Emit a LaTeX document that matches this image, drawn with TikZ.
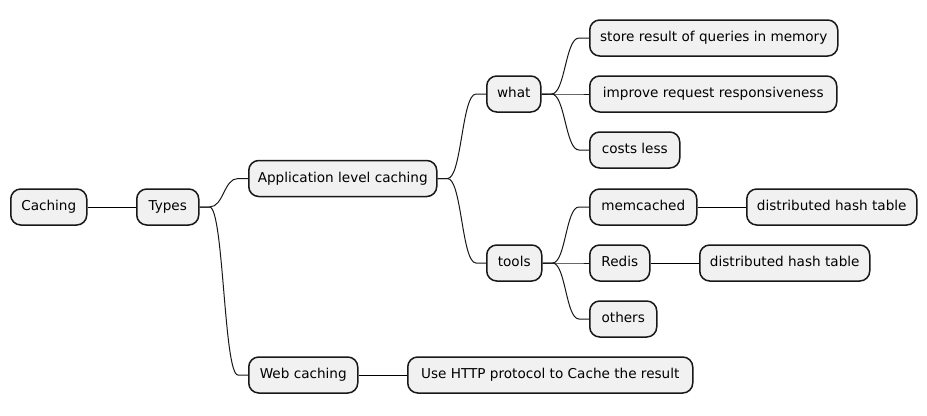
\documentclass[tikz,border=0pt]{standalone}
\usepackage{fontspec}
\setmainfont{DejaVu Sans}
\usepackage{tikz}
\usetikzlibrary{calc,positioning}

\definecolor{boxfill}{HTML}{F1F1F1}
\definecolor{boxline}{HTML}{181818}

\begin{document}
\begin{tikzpicture}[x=1bp,y=-1bp,
  topic/.style={draw=boxline, fill=boxfill, line width=1.5bp, rounded corners=10bp,
    anchor=west, minimum height=36bp, minimum width=#1, inner xsep=8bp, inner ysep=0bp,
    text height=10bp, text depth=2.5bp,
    font=\fontsize{13.6bp}{16bp}\selectfont},
  topic/.default=0bp,
  branch/.style={draw=boxline, line width=1bp,
    to path={let \p1=(\tikztostart), \p2=(\tikztotarget), \n1={(\x1+\x2)/2} in
      -- ++(10bp,0) .. controls (\n1,\y1) and (\n1,\y2) .. (\x2-10bp,\y2) -- (\tikztotarget)}}]
\useasboundingbox[fill=white] (0,0) rectangle (927,415);

\node[topic=76bp] (caching) at (10,207) {Caching};
\node[topic=62bp] (types) at (136,207) {Types};

\node[topic=188bp] (applevel) at (248,178.5) {Application level caching};
\node[topic=109bp] (web) at (248,375) {Web caching};

\node[topic=54bp] (what) at (486,94) {what};
\node[topic=55bp] (tools) at (486,263) {tools};

\node[topic=248bp] (store) at (589,38) {store result of queries in memory};
\node[topic=247bp] (improve) at (589,94) {improve request responsiveness};
\node[topic=90bp] (costs) at (589,150) {costs less};

\node[topic=107bp] (memcached) at (589,207) {memcached};
\node[topic=60bp] (redis) at (589,263) {Redis};
\node[topic=67bp] (others) at (589,319) {others};

\node[topic=170bp] (dhtmem) at (746,207) {distributed hash table};
\node[topic=170bp] (dhtredis) at (699,263) {distributed hash table};

\node[topic=285bp] (http) at (407,375) {Use HTTP protocol to Cache the result};

% links
\draw (caching.east) -- (types.west);
\draw[branch] (types.east) to (applevel.west);
\draw[branch] (types.east) to (web.west);
\draw[branch] (applevel.east) to (what.west);
\draw[branch] (applevel.east) to (tools.west);
\draw[branch] (what.east) to (store.west);
\draw[branch] (what.east) to (improve.west);
\draw[branch] (what.east) to (costs.west);
\draw[branch] (tools.east) to (memcached.west);
\draw[branch] (tools.east) to (redis.west);
\draw[branch] (tools.east) to (others.west);
\draw (memcached.east) -- (dhtmem.west);
\draw (redis.east) -- (dhtredis.west);
\draw (web.east) -- (http.west);

\end{tikzpicture}
\end{document}
